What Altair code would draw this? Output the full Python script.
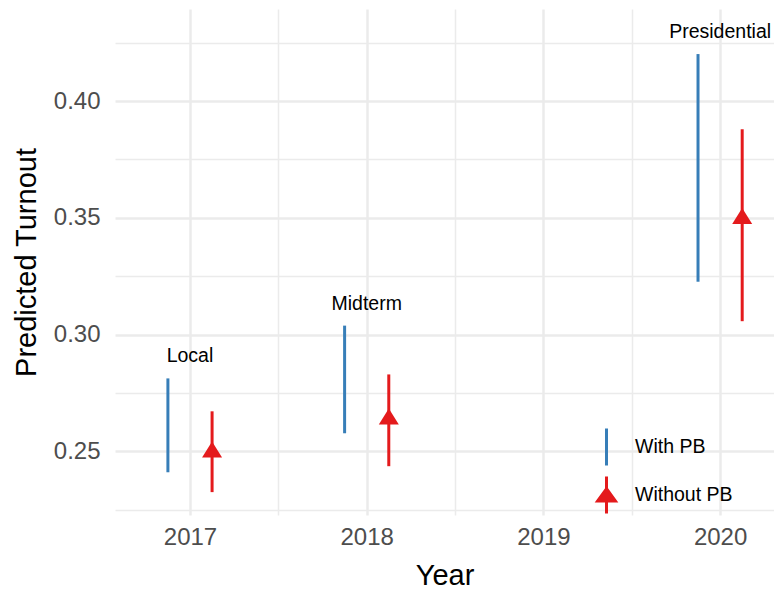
import altair as alt
import pandas as pd

# ---- data ----
elections = ["Local", "Midterm", "Presidential"]
years = [2017, 2018, 2020]
with_low = [0.2410, 0.2577, 0.3226]
with_high = [0.2812, 0.3038, 0.4201]
without_est = [0.2496, 0.2637, 0.3496]
without_low = [0.2325, 0.2436, 0.3057]
without_high = [0.2671, 0.2829, 0.3879]
label_y = [0.2910, 0.3132, 0.4297]
series = ["With PB", "Without PB"]
colors = ["#377eb8", "#e41a1c"]
x_ticks = [2017, 2017.5, 2018, 2018.5, 2019, 2019.5, 2020]
y_ticks = [0.225, 0.25, 0.275, 0.30, 0.325, 0.35, 0.375, 0.40, 0.425]

df_with = pd.DataFrame({"election": elections, "year": years, "low": with_low,
                        "high": with_high, "series": series[0]})
df_without = pd.DataFrame({"election": elections, "year": years, "est": without_est,
                           "low": without_low, "high": without_high, "series": series[1]})
df_lab = pd.DataFrame({"election": elections, "year": years, "ly": label_y})

FONT = "Liberation Sans"
TRI = "M0,-1.067L1,0.533L-1,0.533Z"
LEG_LINE = "M0,-1L0,1"
LEG_TRI = "M0,-1L0,1M0,-0.34L0.48,0.32L-0.48,0.32Z"

xs = alt.Scale(domain=[2016.5756, 2020.305], nice=False, zero=False)
ys = alt.Scale(domain=[0.2227, 0.4394], nice=False, zero=False)

major_x = "abs(datum.value - round(datum.value)) < 0.0001"
major_y = "abs(datum.value*20 - round(datum.value*20)) < 0.0001"

x_axis = alt.Axis(values=x_ticks, title="Year",
                  labelExpr=f"{major_x} ? format(datum.value, 'd') : ''",
                  grid=True, gridColor="#ebebeb",
                  gridWidth={"condition": {"test": major_x, "value": 2.5}, "value": 1.5},
                  domain=False, ticks=False, tickSize=0, labelFlush=False, labelOverlap=False,
                  labelFontSize=24, labelColor="#4d4d4d", labelFont=FONT, labelPadding=10,
                  titleFontSize=29, titleColor="black", titleFont=FONT,
                  titleFontWeight="normal", titlePadding=12)
y_axis = alt.Axis(values=y_ticks, title="Predicted Turnout",
                  labelExpr=f"{major_y} ? format(datum.value, '.2f') : ''",
                  grid=True, gridColor="#ebebeb",
                  gridWidth={"condition": {"test": major_y, "value": 2.5}, "value": 1.5},
                  domain=False, ticks=False, tickSize=0, labelFlush=False, labelOverlap=False,
                  labelFontSize=24, labelColor="#4d4d4d", labelFont=FONT, labelPadding=15,
                  titleFontSize=29, titleColor="black", titleFont=FONT,
                  titleFontWeight="normal", titlePadding=12)

blue_rules = alt.Chart(df_with).transform_calculate(
    xd="datum.year - 0.125").mark_rule(color=colors[0], strokeWidth=3).encode(
    x=alt.X("xd:Q", scale=xs, axis=x_axis),
    y=alt.Y("low:Q", scale=ys, axis=y_axis),
    y2="high:Q")

red_rules = alt.Chart(df_without).transform_calculate(
    xd="datum.year + 0.125").mark_rule(color=colors[1], strokeWidth=3).encode(
    x=alt.X("xd:Q", scale=xs), y=alt.Y("low:Q", scale=ys), y2="high:Q")

red_pts = alt.Chart(df_without).transform_calculate(
    xd="datum.year + 0.125").mark_point(shape=TRI, size=400, filled=True,
                                        color=colors[1], opacity=1, strokeWidth=0).encode(
    x=alt.X("xd:Q", scale=xs), y=alt.Y("est:Q", scale=ys))

labels = alt.Chart(df_lab).mark_text(fontSize=19.5, font=FONT, color="black",
                                     align="center", baseline="middle").encode(
    x=alt.X("year:Q", scale=xs), y=alt.Y("ly:Q", scale=ys), text="election:N")

leg = alt.Legend(title=None, orient="none", legendX=471.5, legendY=418,
                 symbolSize=1369, symbolStrokeWidth=3, symbolOpacity=1,
                 labelFontSize=19.5, labelFont=FONT, labelColor="black",
                 labelOffset=8.5, rowPadding=-2, padding=0)

legend_layer = alt.Chart(df_without).transform_filter("false").mark_point(
    filled=True, size=1369, opacity=1, strokeWidth=3).encode(
    x=alt.X("year:Q", scale=xs), y=alt.Y("est:Q", scale=ys),
    shape=alt.Shape("series:N", scale=alt.Scale(domain=series, range=[LEG_LINE, LEG_TRI]), legend=leg),
    fill=alt.Fill("series:N", scale=alt.Scale(domain=series, range=colors), legend=leg),
    stroke=alt.Stroke("series:N", scale=alt.Scale(domain=series, range=colors), legend=leg))

chart = alt.layer(blue_rules, red_rules, red_pts, labels, legend_layer).properties(
    width=659, height=506, autosize="none",
    padding={"left": 107, "top": 1, "right": 0, "bottom": 76},
    background="white"
).configure_view(stroke=None)

chart.save("out.html", embed_options={"renderer": "svg", "actions": False})
